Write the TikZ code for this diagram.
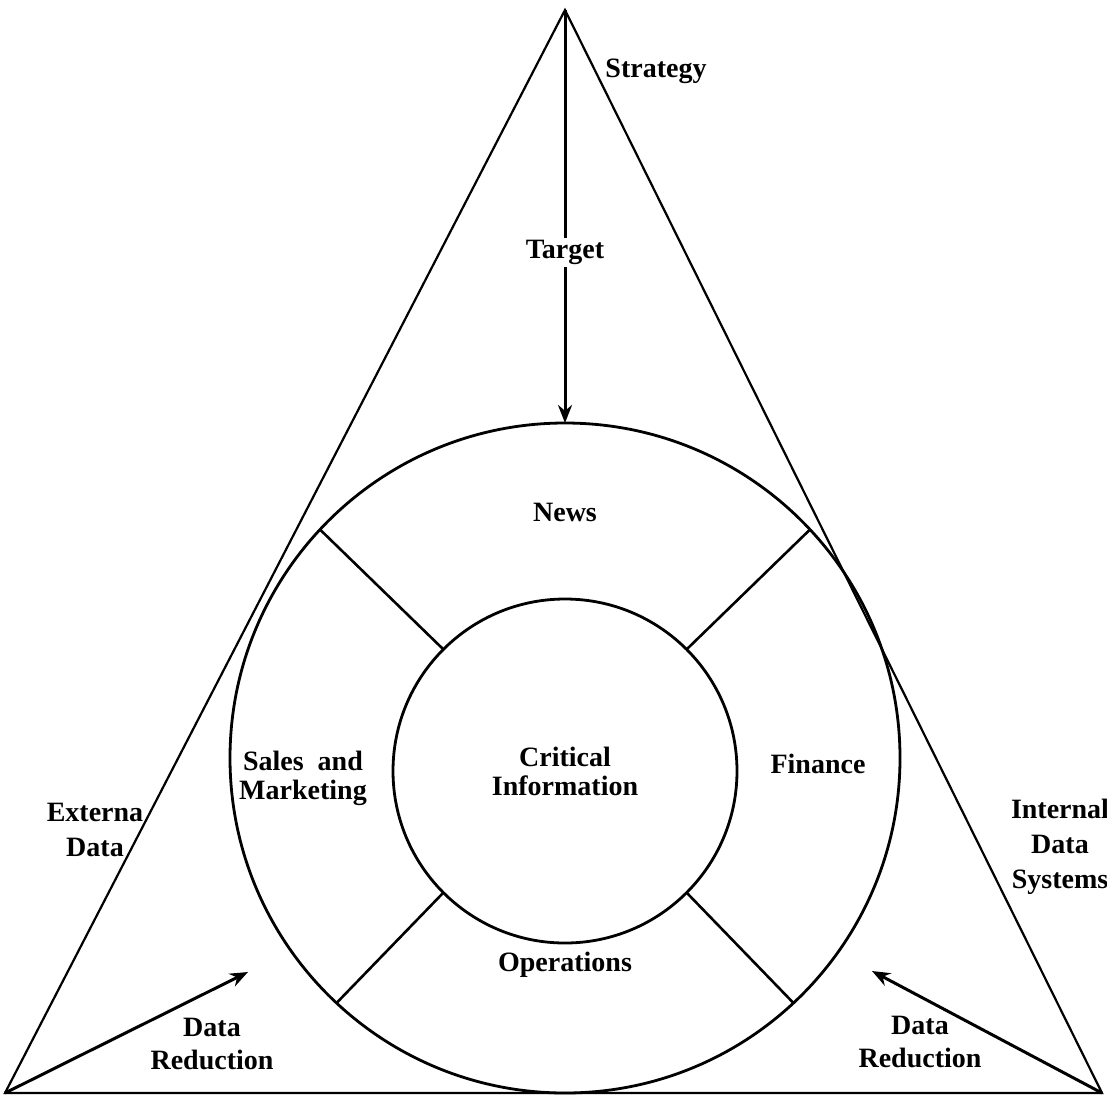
\documentclass[tikz,border=0pt]{standalone}
\usepackage{fontspec}
\setmainfont{Liberation Serif}
\usetikzlibrary{arrows.meta}
\tikzset{
every node/.style={font=\bfseries\fontsize{14}{14.5}\selectfont, align=center, inner sep=1pt}, % all the labels
ring/.style={draw, circle, line width=1.4pt, inner sep=0pt, outer sep=0pt}, % the two circles
divider/.style={line width=1.3pt}, % spokes between the circles
side/.style={line width=1.1pt, line join=miter}, % the triangle
flow/.style={-{Stealth[length=9pt, width=7pt]}, line width=1.5pt}, % the arrows
wide/.style={font=\bfseries\fontsize{14}{16.5}\selectfont}, % looser line spacing
wider/.style={font=\bfseries\fontsize{14}{17.5}\selectfont}, % side labels
}

\begin{document}
\begin{tikzpicture}[x=0.5pt, y=-0.5pt]
\useasboundingbox (0,0) rectangle (1107,1098);

% triangle
\coordinate (apex) at (565,10);
\coordinate (bl) at (5,1093);
\coordinate (br) at (1102,1093);
\draw[side] (apex) -- (bl) -- (br) -- cycle;

% circles
\node[ring, minimum size=335pt] (outer) at (565,758) {};
\node[ring, minimum size=172pt] (inner) at (565,771) {};
\draw[divider] (inner.135) -- (outer.137);
\draw[divider] (inner.45) -- (outer.43);
\draw[divider] (inner.225) -- (outer.227);
\draw[divider] (inner.315) -- (outer.313);

% arrows
\coordinate (lefttip) at (248,972);
\coordinate (righttip) at (872,971);
\draw[flow] (apex) -- node[fill=white, pos=0.587] (target) {Target} (outer.north);
\draw[flow] (bl) -- (lefttip);
\draw[flow] (br) -- (righttip);

% labels
\node (strategy) at (656,71) {Strategy};
\node (news) at (565,512) {News};
\node (sales) at (303,778) {Sales\ \ and\\Marketing};
\node (critical) at (565,771) {Critical\\Information};
\node (finance) at (818,764) {Finance};
\node (ops) at (565,965) {Operations};
\node[wider] (external) at (95,830) {Externa\\Data};
\node[wider] (internal) at (1060,847) {Internal\\Data\\Systems};
\node[wide] (leftred) at (212,1044) {Data\\Reduction};
\node[wide] (rightred) at (920,1042) {Data\\Reduction};
\end{tikzpicture}
\end{document}
